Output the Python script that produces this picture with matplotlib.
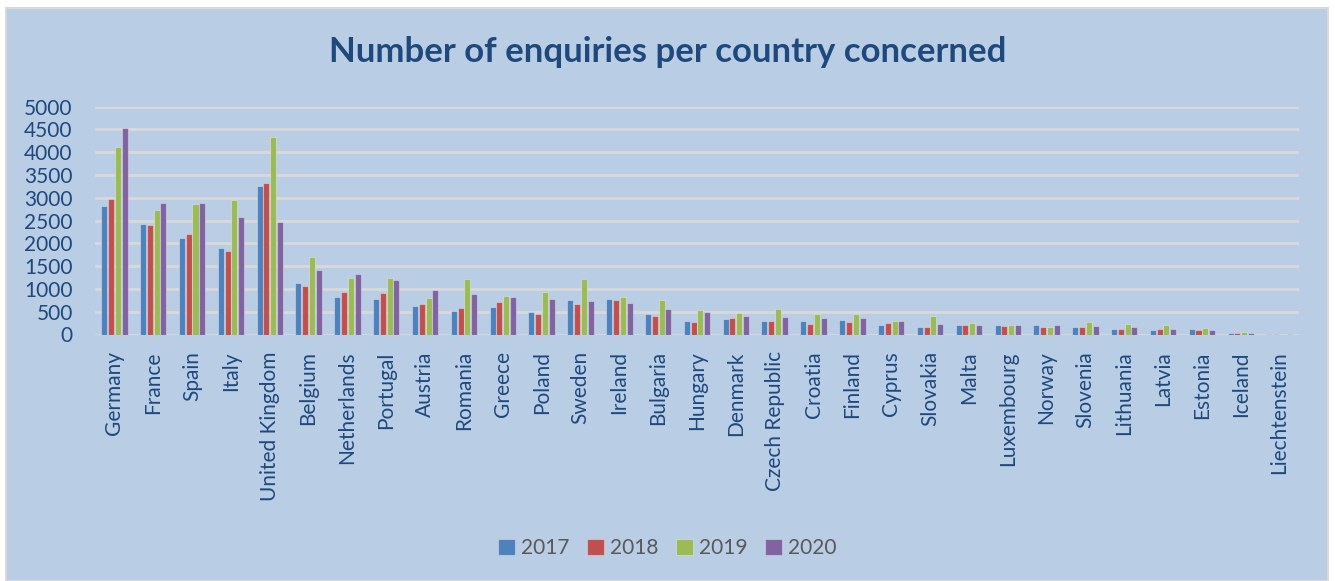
import matplotlib.pyplot as plt
import numpy as np

# --- DATA ---
countries = ['Germany', 'France', 'Spain', 'Italy', 'United Kingdom', 'Belgium',
             'Netherlands', 'Portugal', 'Austria', 'Romania', 'Greece', 'Poland',
             'Sweden', 'Ireland', 'Bulgaria', 'Hungary', 'Denmark', 'Czech Republic',
             'Croatia', 'Finland', 'Cyprus', 'Slovakia', 'Malta', 'Luxembourg',
             'Norway', 'Slovenia', 'Lithuania', 'Latvia', 'Estonia', 'Iceland',
             'Liechtenstein']
years = ['2017', '2018', '2019', '2020']

v2017 = [2825, 2435, 2115, 1895, 3255, 1125, 826, 790, 630, 520, 600, 497,
         760, 770, 440, 307, 344, 293, 293, 322, 205, 161, 205, 212, 198, 168,
         124, 88, 124, 37, 2]
v2018 = [2975, 2405, 2210, 1835, 3320, 1067, 928, 906, 680, 577, 716, 453,
         665, 755, 417, 285, 359, 293, 227, 278, 242, 154, 198, 176, 168, 154,
         117, 117, 102, 37, 2]
v2019 = [4125, 2735, 2875, 2945, 4330, 1703, 1250, 1243, 797, 1221, 855, 936,
         1213, 827, 754, 542, 461, 549, 447, 454, 293, 403, 242, 212, 168, 264,
         234, 198, 146, 58, 3]
v2020 = [4535, 2880, 2880, 2580, 2470, 1411, 1330, 1191, 980, 899, 833, 789,
         731, 688, 549, 483, 417, 395, 373, 359, 300, 235, 212, 212, 198, 190,
         168, 117, 102, 37, 2]

colors = ['#4F81BD', '#C0504D', '#9BBB59', '#8064A2']
bg = '#B9CDE5'
text_blue = '#1F497D'

# --- PLOT ---
fig = plt.figure(figsize=(13.35, 5.81), dpi=100)
fig.patch.set_facecolor('white')

# chart area with thin grey border
frame = plt.Rectangle((6 / 1335, 0), 1322 / 1335, 1 - 8 / 581, transform=fig.transFigure,
                      facecolor=bg, edgecolor='#D9D9D9', linewidth=1.5, zorder=-1)
fig.patches.append(frame)

ax = fig.add_axes([95 / 1335, 1 - 334.5 / 581, (1299 - 95) / 1335, (334.5 - 106.7) / 581])
ax.set_zorder(2)
ax.patch.set_alpha(0)

x = np.arange(len(countries))
series = [v2017, v2018, v2019, v2020]
bw = 0.155
for i, (vals, c, yr) in enumerate(zip(series, colors, years)):
    ax.bar(x + (i - 1.5) * 0.175, vals, width=bw, color=c, label=yr,
           edgecolor=(1, 1, 1, 0.35), linewidth=0.8, zorder=3)

ax.set_xlim(-0.5, len(countries) - 0.5)
ax.set_ylim(0, 5000)
ax.set_yticks(np.arange(0, 5001, 500))
ax.yaxis.grid(True, color='#D9D9D9', linewidth=2, zorder=0)
ax.set_axisbelow(True)
for s in ax.spines.values():
    s.set_visible(False)
ax.tick_params(axis='both', length=0, colors=text_blue, labelsize=15)
ax.tick_params(axis='y', pad=16)
ax.set_xticks(x)
ax.set_xticklabels(countries, rotation=90, va='top', ha='center')
ax.tick_params(axis='x', pad=12)
for lbl in ax.get_xticklabels() + ax.get_yticklabels():
    lbl.set_family('Lato')

fig.text(0.5, 1 - 52 / 581, 'Number of enquiries per country concerned', ha='center', va='center',
         fontsize=25, fontweight='bold', color=text_blue, family='Lato')

leg = fig.legend(loc='center', bbox_to_anchor=(0.5, 1 - 548 / 581), ncol=4, frameon=False,
                 prop={'family': 'Lato', 'size': 15}, handlelength=0.8, handleheight=0.8,
                 handletextpad=0.3, columnspacing=0.85)
for t in leg.get_texts():
    t.set_color('#595959')

fig.savefig('out.png', dpi=100, facecolor=fig.get_facecolor())
